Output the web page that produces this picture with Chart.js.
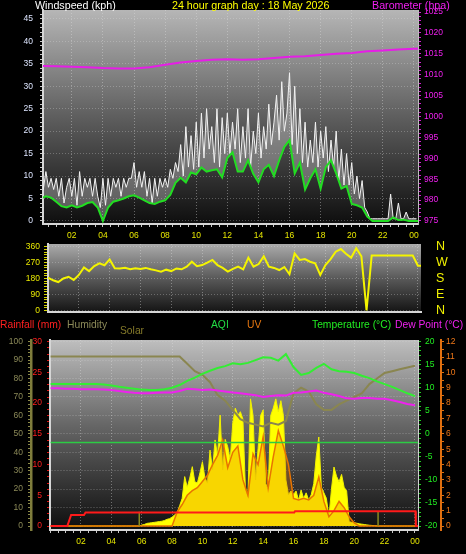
<!DOCTYPE html>
<html>
<head>
<meta charset="utf-8">
<title>24 hour graph</title>
<script src="https://cdn.jsdelivr.net/npm/chart.js@4.4.1/dist/chart.umd.min.js"></script>
<style>
    body { margin: 0; background: #000; }
    #page { position: relative; width: 466px; height: 554px; overflow: hidden; background: #000; font-family: "Liberation Sans", Arial, sans-serif; }
    canvas { position: absolute; left: 0; }
    .lbl { position: absolute; white-space: nowrap; line-height: 1; }
    .head { top: 0; font-size: 10.7px; }
    .leg { top: 320px; font-size: 10.3px; }
</style>
</head>
<body>
<div id="page">
    <canvas id="windChart" width="466" height="245" style="top:0"></canvas>
    <canvas id="dirChart" width="466" height="82" style="top:238px"></canvas>
    <canvas id="climateChart" width="466" height="234" style="top:320px"></canvas>

    <div class="lbl head" style="left:35px;color:#ffffff">Windspeed (kph)</div>
    <div class="lbl head" style="left:172px;color:#ffff00">24 hour graph day : 18 May 2026</div>
    <div class="lbl head" style="left:372px;color:#f020f0">Barometer (hpa)</div>

    <div class="lbl leg" style="left:0;color:#ff2020">Rainfall (mm)</div>
    <div class="lbl leg" style="left:67px;color:#8c8a58">Humidity</div>
    <div class="lbl leg" style="left:120px;top:326px;color:#857a2a">Solar</div>
    <div class="lbl leg" style="left:211px;color:#22dd44">AQI</div>
    <div class="lbl leg" style="left:247px;color:#e87810">UV</div>
    <div class="lbl leg" style="left:312px;color:#22ee22">Temperature (°C)</div>
    <div class="lbl leg" style="left:395px;color:#ee22ee">Dew Point (°C)</div>
</div>

<script>
// --- Data ---
const hourLabels = ['02', '04', '06', '08', '10', '12', '14', '16', '18', '20', '22', '00'];
const compassLabels = ['N', 'E', 'S', 'W', 'N'];

// wind gust (kph), every 10 minutes from midnight
const gustKph = [
    9.5, 7, 11, 7.5, 9.5, 7,      9.5, 5.5, 9.5, 4, 7.5, 9.5,
    5.5, 9.5, 3.5, 11, 5.5, 9.5,  7.5, 9.5, 5.5, 9.5, 5.5, 3,
    9.5, 3.5, 9.5, 5.5, 9.5, 7.5, 9.5, 5.5, 9.5, 7.5, 9.5, 9.5,
    13, 7.5, 11, 7.5, 11, 5.5,    9.5, 4, 9.5, 5.5, 9.5, 7.5,
    9.5, 7.5, 11.5, 9.5, 13, 11,  17, 10, 21, 12, 19, 11.5,
    22, 12, 24, 14, 25, 16,       21, 13, 25, 12, 23, 15,
    24, 15, 22, 16, 25, 13,       21, 14, 25, 12, 20, 15,
    24, 14, 21, 16, 26, 17,       22, 28, 18, 31, 20, 24,
    33, 17, 30, 15, 25, 13,       22, 12, 18, 13, 22, 12,
    20, 14, 21, 11, 18, 12,       20, 9, 16, 8, 15, 8,
    13, 6, 10, 5, 9, 3,           2, 0.5, 0.5, 0.5, 0.5, 0.5,
    0.5, 0.5, 0.5, 6, 0.5, 0.5,   4, 0.5, 0.5, 2, 0.5, 0.5,
    0.5, 0.5
];

// average wind (kph), every 20 minutes
const windKph = [
    5.0, 5.5, 5.2, 4.3, 3.3, 3.0, 3.5, 3.0, 3.4, 4.0, 4.2, 3.0,
    0, 3.0, 4.3, 4.6, 5.0, 5.5, 5.7, 5.2, 4.6, 4.0, 3.8, 4.3,
    4.6, 5.8, 8.5, 9.6, 8.6, 10.8, 10.4, 11.9, 11.0, 11.3, 11.5, 9.7,
    14.0, 15.3, 11.0, 11.0, 13.5, 10.5, 8.6, 11.5, 12.5, 10.0, 13.5, 16.5,
    18.0, 10.6, 13.0, 7.0, 9.5, 11.5, 7.2, 12.0, 13.5, 10.6, 7.2, 7.8,
    3.8, 3.5, 3.0, 1.0, 0, 0, 0, 0, 0.8, 0.2, 0.3, 0,
    0, 0
];

// barometer (hpa), hourly
const baroHpa = [
    1012.1, 1012.0, 1011.9, 1011.8, 1011.6, 1011.5, 1011.5, 1011.8, 1012.4,
    1012.9, 1013.3, 1013.6, 1013.7, 1013.6, 1013.7, 1014.0, 1014.3, 1014.4,
    1014.7, 1015.0, 1015.2, 1015.6, 1015.8, 1016.0, 1016.2, 1016.2
];

// wind direction (degrees), every 20 minutes
const windDir = [
    185, 170, 160, 180, 190, 172, 200, 243, 222, 250, 266, 255,
    288, 238, 236, 241, 232, 238, 234, 240, 232, 226, 219, 230,
    222, 237, 232, 247, 275, 250, 256, 270, 285, 256, 240, 219,
    235, 247, 232, 298, 247, 262, 306, 247, 240, 228, 245, 204,
    322, 285, 290, 275, 266, 200, 256, 290, 332, 347, 320, 298,
    351, 306, 0, 310, 310, 310, 310, 310, 310, 310, 310, 310,
    252, 252
];

// humidity (%), temperature and dew point (°C), every 30 minutes
const humidity = [
    92, 92, 92, 92, 92, 92, 92, 92, 92, 92, 92, 92,
    92, 92, 92, 92, 92, 92, 88, 84, 82, 78, 71, 68,
    63, 58, 56, 55, 54, 56, 55, 57, 72, 75, 73, 66,
    63, 63, 66, 68, 70, 72, 77, 80, 83, 84, 85, 86,
    87
];
const tempC = [
    10.8, 10.8, 10.8, 10.8, 10.8, 10.8, 10.8, 10.7, 10.5, 10.2, 10.0, 9.8,
    9.6, 9.5, 9.5, 9.7, 10.0, 10.6, 11.5, 12.2, 13.0, 13.7, 14.3, 14.7,
    15.3, 15.1, 15.4, 16.0, 16.6, 16.5, 15.9, 17.3, 14.5, 12.8, 13.2, 14.3,
    15.2, 14.0, 13.6, 13.5, 13.2, 12.6, 12.1, 11.4, 10.8, 10.2, 9.5, 8.8,
    8.2
];
const dewPointC = [
    9.9, 9.9, 9.8, 9.8, 9.7, 9.7, 9.7, 9.6, 9.5, 9.3, 9.1, 8.9,
    8.8, 8.8, 8.9, 9.0, 9.0, 9.3, 9.8, 9.7, 9.5, 9.6, 9.4, 9.2,
    9.0, 8.8, 8.6, 8.4, 8.0, 8.2, 8.4, 8.3, 8.9, 9.0, 9.2, 9.4,
    8.9, 8.6, 8.2, 7.7, 7.6, 7.8, 7.8, 7.6, 7.6, 7.3, 6.9, 6.5,
    6.2
];

// solar (W/m2), every 10 minutes
const solarWm2 = [
    0, 0, 0, 0, 0, 0, 0, 0, 0, 0, 0, 0,
    0, 0, 0, 0, 0, 0, 0, 0, 0, 0, 0, 0,
    0, 0, 0, 0, 0, 0, 0, 0, 0, 0, 0, 0,
    5, 8, 14, 16, 18, 20, 22, 24, 26, 30, 36, 40,
    48, 60, 72, 110, 150, 268, 210, 260, 322, 240, 233, 288,
    349, 260, 233, 412, 304, 467, 380, 602, 304, 470, 430, 358,
    560, 640, 600, 620, 580, 200, 160, 690, 600, 250, 420, 600,
    630, 230, 200, 600, 640, 690, 620, 680, 600, 250, 170, 190,
    170, 190, 140, 195, 150, 180, 140, 170, 230, 380, 483, 210,
    180, 150, 49, 200, 320, 270, 240, 280, 210, 190, 23, 20,
    18, 15, 12, 10, 8, 6, 4, 3, 2, 1, 0, 0,
    0, 0, 0, 0, 0, 0, 0, 0, 0, 0, 0, 0,
    0
];

// UV index, every 20 minutes
const uvIndex = [
    0, 0, 0, 0, 0, 0, 0, 0, 0, 0, 0, 0,
    0, 0, 0, 0, 0, 0, 0, 0, 0, 0, 0, 0,
    0, 0.9, 1.4, 2.0, 2.3, 2.5, 2.9, 3.3, 4.0, 4.6, 5.6, 3.8,
    4.8, 5.2, 3.0, 2.0, 4.7, 4.0, 5.8, 2.5, 4.5, 6.2, 5.2, 4.0,
    1.8, 1.7, 1.8, 1.7, 2.0, 3.2, 1.6, 0.6, 1.0, 1.6, 1.2, 0.6,
    0.2, 0, 0, 0, 0, 0, 0, 0, 0, 0, 0, 0,
    0
];

// rain day total (mm) at the hours it changed
const rainHours = [0, 1.1, 1.35, 2.2, 2.3, 16.05, 16.1, 24.03, 24.06, 24.2];
const rainMm = [0, 0, 1.8, 1.8, 2.2, 2.2, 2.4, 2.4, 0, 0];

const aqiHours = [0, 24.2];
const aqiValues = [45, 45];

// sunrise / sunset marks
const sunHours = [5.84, 21.57];
const sunMarkHeight = 2.3;

// --- Helpers ---
const every = (values, step) => values.map((v, i) => ({ x: i * step, y: v }));
const pairs = (xs, ys) => xs.map((x, i) => ({ x, y: ys[i] }));
const onStep = (v, step) => Math.abs(v / step - Math.round(v / step)) < 1e-6;

function ticksEvery(from, to, step) {
    const ticks = [];
    const n = Math.round((to - from) / step);
    for (let i = 0; i <= n; i++) ticks.push({ value: +(from + i * step).toFixed(3) });
    return ticks;
}

function noPadding(scale) {
    scale.paddingLeft = 0;
    scale.paddingRight = 0;
    scale.paddingTop = 0;
    scale.paddingBottom = 0;
}

const panelBackground = {
    id: 'panelBackground',
    beforeDraw(chart, args, opts) {
        const { ctx, chartArea: a } = chart;
        const g = ctx.createLinearGradient(0, a.top, 0, a.bottom);
        opts.stops.forEach(([p, c]) => g.addColorStop(p, c));
        ctx.save();
        ctx.fillStyle = g;
        ctx.fillRect(a.left, a.top, a.right - a.left, a.bottom - a.top);
        ctx.restore();
    }
};

function hourAxis(min, max, height, showLabels) {
    return {
        type: 'linear', min, max,
        afterFit: s => { s.height = height; noPadding(s); },
        afterBuildTicks: s => { s.ticks = ticksEvery(0, 24, 0.5).filter(t => t.value >= min && t.value <= max); },
        ticks: {
            display: showLabels, autoSkip: false, maxRotation: 0, padding: 3.5, color: '#e6e600',
            callback: v => (v > 0 && onStep(v, 2)) ? hourLabels[v / 2 - 1] : ''
        },
        grid: {
            color: c => (c.tick && c.tick.value > 0 && onStep(c.tick.value, 2)) ? 'rgba(225,225,225,0.4)' : 'rgba(0,0,0,0)',
            tickColor: '#c8c8c8', tickLength: 3, drawTicks: showLabels
        },
        border: { color: '#d6d6d6', width: 2, dash: [1, 2] }
    };
}

function valueAxis(o) {
    return {
        type: 'linear', position: o.position, weight: o.weight || 0, min: o.min, max: o.max,
        afterFit: s => { s.width = o.width; noPadding(s); },
        afterBuildTicks: s => { s.ticks = ticksEvery(o.from, o.to, o.step); },
        ticks: {
            autoSkip: false, color: o.color, padding: o.padding, font: { size: o.fontSize || 8.5 },
            callback: v => onStep(v, o.major) ? (o.label ? o.label(v) : String(v)) : ''
        },
        grid: {
            drawOnChartArea: !!o.gridColor,
            color: c => (o.gridColor && c.tick && onStep(c.tick.value, o.major)) ? o.gridColor : 'rgba(0,0,0,0)',
            tickColor: o.tickColor || 'rgba(0,0,0,0)',
            tickLength: o.tickLength || 0,
            drawTicks: !!o.tickLength
        },
        border: { display: !!o.border, color: o.border, width: o.borderWidth || 1, dash: [1, 2] }
    };
}

const common = {
    responsive: false,
    animation: false,
    devicePixelRatio: 1,
    events: [],
    elements: { point: { radius: 0 }, line: { tension: 0 } }
};

Chart.defaults.font.family = '"Liberation Sans", Arial, sans-serif';
Chart.defaults.font.size = 8.5;
Chart.defaults.plugins.legend.display = false;
Chart.defaults.plugins.tooltip.enabled = false;

// --- Wind speed / barometer ---
function renderWindChart() {
    new Chart(document.getElementById('windChart'), {
        type: 'line',
        data: {
            datasets: [
                { data: every(windKph, 1 / 3), yAxisID: 'wind', borderColor: '#22dd22', borderWidth: 2 },
                // gust, shaded down to the average line
                {
                    data: every(gustKph, 1 / 6), yAxisID: 'wind', borderColor: '#f2f2f2', borderWidth: 1,
                    backgroundColor: 'rgba(235,235,235,0.33)', fill: '-1'
                },
                { data: every(baroHpa, 1), yAxisID: 'baro', borderColor: '#e61ee6', borderWidth: 2 }
            ]
        },
        options: {
            ...common,
            layout: { padding: { top: 10 } },
            plugins: { panelBackground: { stops: [[0, '#b6b6b6'], [0.5, '#5e5e5e'], [1, '#0e0e0e']] } },
            scales: {
                x: hourAxis(0.148, 24.26, 21, true),
                wind: valueAxis({
                    position: 'left', width: 43, min: -0.668, max: 46.95, from: 0, to: 46, step: 1, major: 5,
                    color: '#dde5ff', tickColor: '#c8c8c8', tickLength: 3, padding: 7,
                    border: '#d6d6d6', borderWidth: 2, gridColor: 'rgba(225,225,225,0.3)'
                }),
                baro: valueAxis({
                    position: 'right', width: 48, min: 974.28, max: 1025.48, from: 975, to: 1025, step: 1, major: 5,
                    color: '#f020f0', tickColor: '#d020d0', tickLength: 3, padding: 3, border: '#bdbdbd'
                })
            }
        },
        plugins: [panelBackground]
    });
}

// --- Wind direction ---
function renderDirectionChart() {
    new Chart(document.getElementById('dirChart'), {
        type: 'line',
        data: {
            datasets: [
                { data: every(windDir, 1 / 3), yAxisID: 'dir', borderColor: '#f4f400', borderWidth: 2 }
            ]
        },
        options: {
            ...common,
            layout: { padding: { top: 6 } },
            plugins: { panelBackground: { stops: [[0, '#ababab'], [0.5, '#5a5a5a'], [1, '#141414']] } },
            scales: {
                x: hourAxis(0, 24.2, 8, false),
                dir: valueAxis({
                    position: 'left', width: 48, min: -9.6, max: 375.3, from: 0, to: 360, step: 15, major: 90,
                    color: '#e8e800', tickColor: '#d8d800', tickLength: 4, padding: 4,
                    border: '#d6d6d6', borderWidth: 2, gridColor: 'rgba(225,225,225,0.3)'
                }),
                compass: valueAxis({
                    position: 'right', width: 45, min: -9.6, max: 375.3, from: 0, to: 360, step: 90, major: 90,
                    color: '#f0f000', fontSize: 12.5, padding: 15, label: v => compassLabels[v / 90]
                })
            }
        },
        plugins: [panelBackground]
    });
}

// --- Rain, humidity, solar, UV, AQI, temperature ---
function renderClimateChart() {
    const sunMarks = sunHours.flatMap(h => [{ x: h, y: 0 }, { x: h, y: sunMarkHeight }, { x: h, y: null }]);

    new Chart(document.getElementById('climateChart'), {
        type: 'line',
        data: {
            datasets: [
                { data: pairs(rainHours, rainMm), yAxisID: 'rain', borderColor: '#ff1a1a', borderWidth: 2 },
                { data: pairs(aqiHours, aqiValues), yAxisID: 'aqi', borderColor: '#2ccc44', borderWidth: 1.5 },
                { data: every(tempC, 0.5), yAxisID: 'temp', borderColor: '#33ee33', borderWidth: 2 },
                { data: every(dewPointC, 0.5), yAxisID: 'temp', borderColor: '#ee22ee', borderWidth: 2 },
                { data: every(humidity, 0.5), yAxisID: 'hum', borderColor: '#8a8650', borderWidth: 2 },
                { data: sunMarks, yAxisID: 'rain', borderColor: '#8a8a20', borderWidth: 1.5, spanGaps: false },
                {
                    data: every(uvIndex, 1 / 3), yAxisID: 'uv', borderColor: '#e87400', borderWidth: 1.5,
                    backgroundColor: 'rgba(232,118,0,0.3)', fill: 'origin'
                },
                {
                    data: every(solarWm2, 1 / 6), yAxisID: 'solar', borderColor: '#f0f000', borderWidth: 1,
                    backgroundColor: '#ffff00', fill: 'origin'
                }
            ]
        },
        options: {
            ...common,
            layout: { padding: { top: 20 } },
            plugins: { panelBackground: { stops: [[0, '#bebebe'], [0.45, '#666666'], [1, '#0e0e0e']] } },
            scales: {
                x: hourAxis(-0.04, 24.2, 24, true),
                rain: valueAxis({
                    position: 'left', weight: 0, width: 19, min: -0.651, max: 30.28, from: 0, to: 30, step: 1, major: 5,
                    color: '#ff2020', tickColor: '#e01010', tickLength: 3, padding: 5, border: '#d6d6d6', borderWidth: 2
                }),
                hum: valueAxis({
                    position: 'left', weight: 1, width: 31, min: -2.17, max: 100.92, from: 0, to: 100, step: 2, major: 10,
                    color: '#8c8a58', tickColor: '#8c8a48', tickLength: 3, padding: 5,
                    border: '#7f7d3c', borderWidth: 2.5, gridColor: 'rgba(225,225,225,0.35)'
                }),
                temp: valueAxis({
                    position: 'right', weight: 0, width: 23, min: -20.868, max: 20.369, from: -20, to: 20, step: 1, major: 5,
                    color: '#22ee22', tickColor: '#22cc22', tickLength: 3, padding: 4, border: '#cfcfcf'
                }),
                aqi: valueAxis({
                    position: 'right', weight: 1, width: 0, min: -1.05, max: 98.95, from: 0, to: 90, step: 10, major: 10,
                    color: '#33dd33', padding: 9
                }),
                uv: valueAxis({
                    position: 'right', weight: 2, width: 25, min: -0.26, max: 12.11, from: 0, to: 12, step: 0.5, major: 1,
                    color: '#f07818', tickColor: '#e07010', tickLength: 3, padding: 2, border: '#e07010', borderWidth: 2
                }),
                solar: { type: 'linear', display: false, min: -21.7, max: 1009.2 }
            }
        },
        plugins: [panelBackground]
    });
}

renderWindChart();
renderDirectionChart();
renderClimateChart();
</script>
</body>
</html>
